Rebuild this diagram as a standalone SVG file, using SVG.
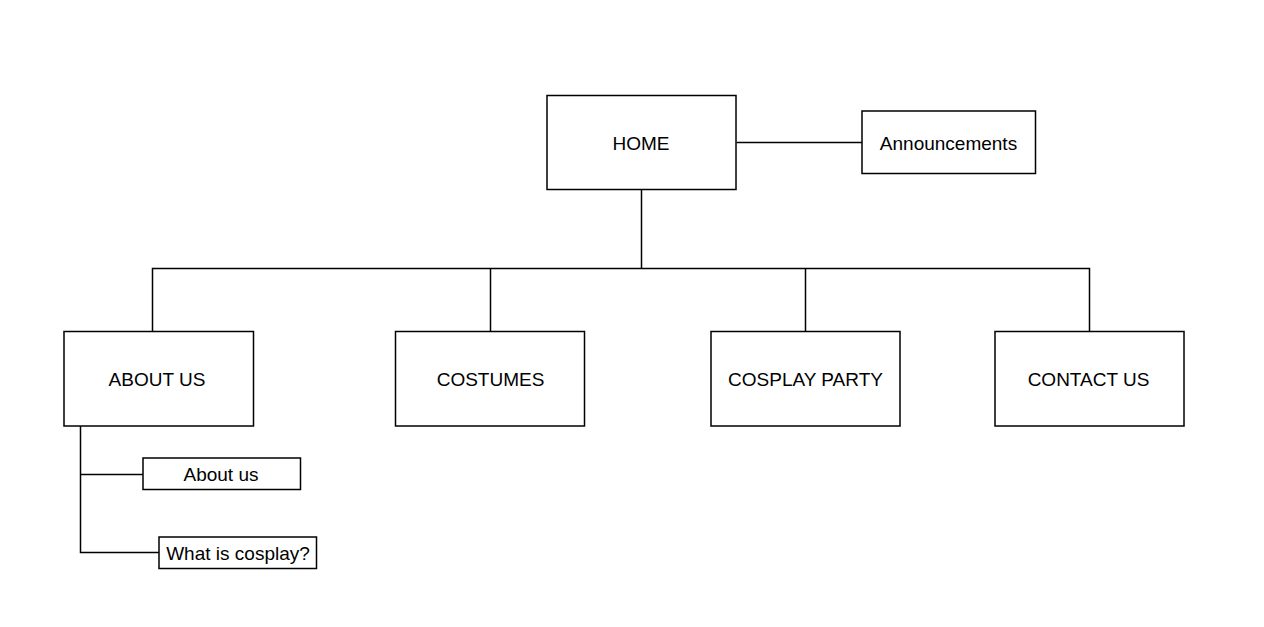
<svg xmlns="http://www.w3.org/2000/svg" width="1264" height="627" viewBox="0 0 1264 627">
<style>
.box{fill:#fff;stroke:#000;stroke-width:1.5}
.lbl{font-family:"Liberation Sans",Arial,sans-serif;font-size:19px;fill:#000;text-anchor:middle;dominant-baseline:central}
.conn{fill:none;stroke:#000;stroke-width:1.5}
</style>
<rect width="1264" height="627" fill="#fff"/>
<g id="connectors">
<path class="conn" d="M736.5 142.5H862"/>
<path class="conn" d="M641.5 189V268.5"/>
<path class="conn" d="M152.5 331V268.5H1089.5V331"/>
<path class="conn" d="M490.5 268.5V331"/>
<path class="conn" d="M805.5 268.5V331"/>
<path class="conn" d="M80.5 426V552.5H159"/>
<path class="conn" d="M80.5 474.5H143"/>
</g>
<g id="home"><rect class="box" x="547" y="95.5" width="189" height="94"/><text class="lbl" x="641" y="143">HOME</text></g>
<g id="announcements"><rect class="box" x="862" y="111" width="173.5" height="62.5"/><text class="lbl" x="948.5" y="143">Announcements</text></g>
<g id="about"><rect class="box" x="64" y="331.5" width="189.5" height="94.5"/><text class="lbl" x="157" y="379">ABOUT US</text></g>
<g id="costumes"><rect class="box" x="395.5" y="331.5" width="189" height="94.5"/><text class="lbl" x="490.5" y="379">COSTUMES</text></g>
<g id="cosplay-party"><rect class="box" x="711" y="331.5" width="189" height="94.5"/><text class="lbl" x="805.5" y="379">COSPLAY PARTY</text></g>
<g id="contact"><rect class="box" x="995" y="331.5" width="189" height="94.5"/><text class="lbl" x="1088.5" y="379">CONTACT US</text></g>
<g id="about-us-sub"><rect class="box" x="143" y="458" width="157.5" height="31.5"/><text class="lbl" x="221" y="474">About us</text></g>
<g id="what-is-cosplay"><rect class="box" x="159" y="537" width="157.5" height="31.5"/><text class="lbl" x="238" y="553">What is cosplay?</text></g>
</svg>
